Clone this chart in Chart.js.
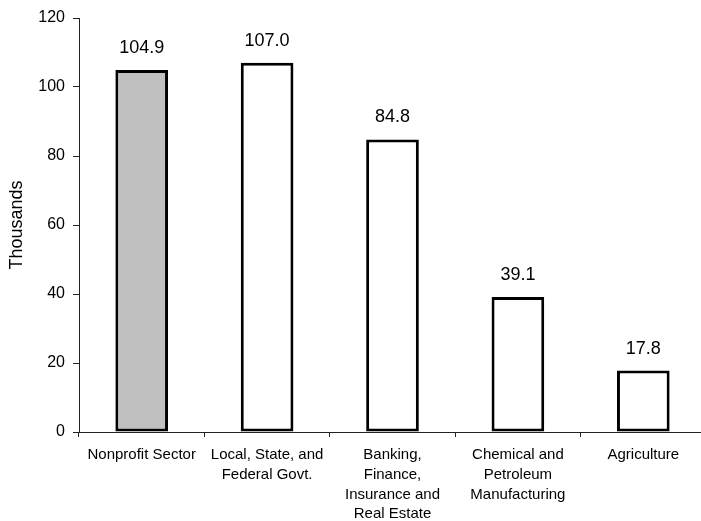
<!DOCTYPE html>
<html>
<head>
<meta charset="utf-8">
<script src="https://cdn.jsdelivr.net/npm/chart.js@4/dist/chart.umd.min.js"></script>
<style>
  html, body { margin: 0; padding: 0; background: #fff; overflow: hidden; }
  canvas { display: block; }
</style>
</head>
<body>
<canvas id="salaryChart" width="706" height="521"></canvas>
<script>
// Datos del gráfico
const categories = [
    'Nonprofit Sector',
    ['Local, State, and', 'Federal Govt.'],
    ['Banking,', 'Finance,', 'Insurance and', 'Real Estate'],
    ['Chemical and', 'Petroleum', 'Manufacturing'],
    'Agriculture'
];
const values = [104.9, 107.0, 84.8, 39.1, 17.8];
const barColors = ['#c0c0c0', '#ffffff', '#ffffff', '#ffffff', '#ffffff'];
const yTicks = [0, 20, 40, 60, 80, 100, 120];

const FONT = '"Liberation Sans", Arial, sans-serif';

// Etiquetas de valor encima de cada barra
const valueLabels = {
    id: 'valueLabels',
    afterDatasetsDraw(chart) {
        const ctx = chart.ctx;
        const meta = chart.getDatasetMeta(0);
        ctx.save();
        ctx.font = '18px ' + FONT;
        ctx.fillStyle = '#000';
        ctx.textAlign = 'center';
        ctx.textBaseline = 'bottom';
        meta.data.forEach(function(bar, i) {
            ctx.fillText(values[i].toFixed(1), bar.x, bar.y - 13);
        });
        ctx.restore();
    }
};

const ctx = document.getElementById('salaryChart').getContext('2d');
window.salaryChart = new Chart(ctx, {
    type: 'bar',
    data: {
        labels: categories,
        datasets: [{
            data: values,
            backgroundColor: barColors,
            borderColor: '#000',
            borderWidth: 3,
            borderSkipped: false,
            barPercentage: 0.42,
            categoryPercentage: 1
        }]
    },
    options: {
        responsive: false,
        animation: false,
        layout: { padding: { top: 18, right: 0, bottom: 0, left: 0 } },
        plugins: {
            legend: { display: false },
            tooltip: { enabled: false }
        },
        scales: {
            x: {
                border: { color: '#222', width: 1 },
                grid: { display: true, drawOnChartArea: false, offset: true, tickLength: 5, color: '#222' },
                ticks: {
                    color: '#000',
                    font: { family: FONT, size: 15, lineHeight: 1.32 },
                    autoSkip: false,
                    maxRotation: 0,
                    padding: 8
                },
                afterFit(axis) { axis.height = 89; }
            },
            y: {
                min: 0,
                max: 120,
                afterBuildTicks(axis) { axis.ticks = yTicks.map(v => ({ value: v })); },
                border: { color: '#222', width: 1 },
                grid: { display: true, drawOnChartArea: false, tickLength: 6, color: '#222' },
                ticks: {
                    color: '#000',
                    font: { family: FONT, size: 16 },
                    padding: 8
                },
                title: {
                    display: true,
                    text: 'Thousands',
                    color: '#000',
                    font: { family: FONT, size: 18, lineHeight: 1 },
                    padding: { top: 8, bottom: 0 }
                },
                afterFit(axis) { axis.width = 79; }
            }
        }
    },
    plugins: [valueLabels]
});
</script>
</body>
</html>
